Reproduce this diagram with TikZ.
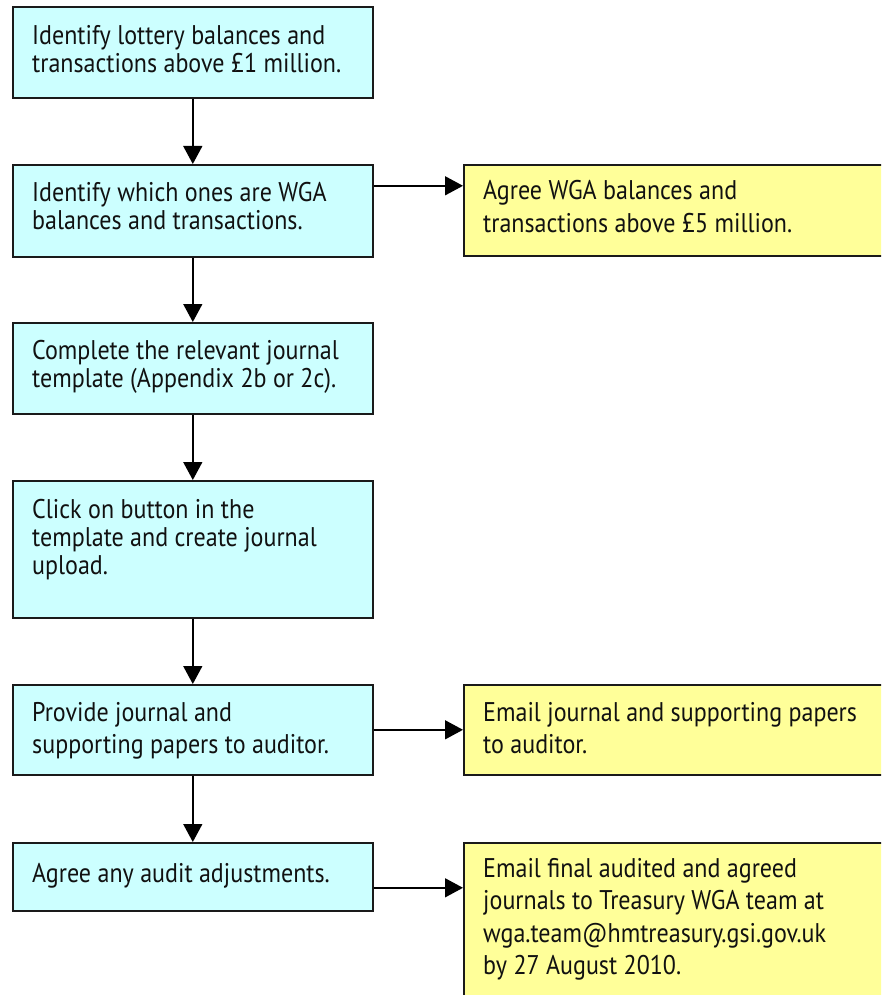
\documentclass[tikz,border=0pt]{standalone}
\usepackage{fontspec}
\setmainfont[FakeStretch=0.89]{PT Sans}
\usetikzlibrary{arrows.meta}
\definecolor{cyanfill}{HTML}{CCFFFF}
\definecolor{yelfill}{HTML}{FFFF99}
\definecolor{edge}{HTML}{1A1A1A}
\definecolor{ink}{HTML}{111111}
\tikzset{
 box/.style={draw=edge, line width=1.6pt, minimum width=360pt, inner sep=0pt, anchor=north west},
 cbox/.style={box, fill=cyanfill},
 ybox/.style={box, fill=yelfill, minimum width=440pt},
 txt/.style={anchor=base west, inner sep=0pt, font=\fontsize{27}{28}\selectfont, text=ink},
 txtb/.style={txt, font=\fontsize{27}{32.5}\selectfont},
 arr/.style={line width=1.5pt, draw=black, -{Triangle[width=19pt,length=18pt]}},
}
\newcommand{\lns}[1]{\begin{tabular}[t]{@{}l@{}}#1\end{tabular}}
\begin{document}
\begin{tikzpicture}[x=1pt,y=-1pt]
\useasboundingbox (0,0) rectangle (881,995);
\clip (0,0) rectangle (881,995);
\fill[white] (0,0) rectangle (881,995);
% left column
\node[cbox, minimum height=91pt] (B1) at (12,6) {};
\node[txt] (T1) at (32,45) {\lns{Identify lottery balances and\\transactions above £1 million.}};
\node[cbox, minimum height=92pt] (B2) at (12,164) {};
\node[txt] (T2) at (32,201) {\lns{Identify which ones are WGA\\balances and transactions.}};
\node[cbox, minimum height=91pt] (B3) at (12,322) {};
\node[txt] (T3) at (32,359) {\lns{Complete the relevant journal\\template (Appendix 2b or 2c).}};
\node[cbox, minimum height=137pt] (B4) at (12,480) {};
\node[txt] (T4) at (32,518) {\lns{Click on button in the\\template and create journal\\upload.}};
\node[cbox, minimum height=90pt] (B5) at (12,684) {};
\node[txtb] (T5) at (32,721) {\lns{Provide journal and\\supporting papers to auditor.}};
\node[cbox, minimum height=68pt] (B6) at (12,842) {};
\node[txtb] (T6) at (32,882) {\lns{Agree any audit adjustments.}};
% right column
\node[ybox, minimum height=91pt] (Y1) at (463,164) {};
\node[txtb] (T7) at (483,200) {\lns{Agree WGA balances and\\transactions above £5 million.}};
\node[ybox, minimum height=90pt] (Y2) at (463,684) {};
\node[txtb] (T8) at (483,721) {\lns{Email journal and supporting papers\\to auditor.}};
\node[ybox, minimum height=200pt] (Y3) at (463,842) {};
\node[txtb] (T9) at (483,877) {\lns{Email final audited and agreed\\journals to Treasury WGA team at\\wga.team@hmtreasury.gsi.gov.uk\\by 27 August 2010.}};
% connectors
\draw[arr] (B1.south) -- (B2.north);
\draw[arr] (B2.south) -- (B3.north);
\draw[arr] (B3.south) -- (B4.north);
\draw[arr] (B4.south) -- (B5.north);
\draw[arr] (B5.south) -- (B6.north);
\draw[arr] ([yshift=25pt]B2.east) -- ([yshift=25pt]B2.east -| Y1.west);
\draw[arr] (B5.east) -- (B5.east -| Y2.west);
\draw[arr] ([yshift=-11pt]B6.east) -- ([yshift=-11pt]B6.east -| Y3.west);
\end{tikzpicture}
\end{document}
